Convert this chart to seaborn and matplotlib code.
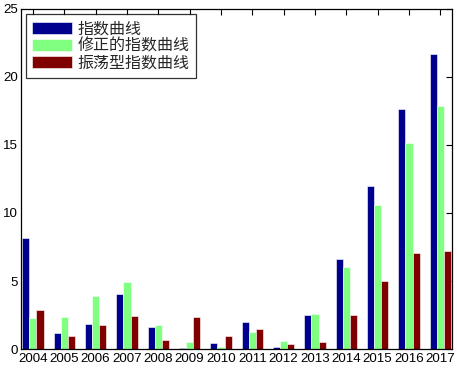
import numpy as np
import pandas as pd
import matplotlib
matplotlib.use("Agg")
import matplotlib.pyplot as plt
import seaborn as sns

years = ["2004", "2005", "2006", "2007", "2008", "2009", "2010",
         "2011", "2012", "2013", "2014", "2015", "2016", "2017"]
series_names = ["指数曲线", "修正的指数曲线", "振荡型指数曲线"]
exp_curve = [8.14, 1.20, 1.84, 4.04, 1.64, 0.10, 0.44, 1.99, 0.17, 2.50, 6.62, 11.99, 17.65, 21.67]
mod_exp_curve = [2.30, 2.38, 3.92, 4.93, 1.79, 0.51, 0.15, 1.25, 0.59, 2.60, 6.03, 10.61, 15.12, 17.87]
osc_exp_curve = [2.87, 0.98, 1.79, 2.43, 0.66, 2.38, 0.98, 1.47, 0.39, 0.51, 2.50, 5.00, 7.06, 7.23]
colors = ["#00008F", "#80FF80", "#800000"]

df = pd.DataFrame({
    "year": years * 3,
    "value": exp_curve + mod_exp_curve + osc_exp_curve,
    "series": [series_names[0]] * len(years) + [series_names[1]] * len(years) + [series_names[2]] * len(years),
})

sns.set_style("white")
plt.rcParams["font.family"] = ["Liberation Sans", "Noto Sans CJK SC", "DejaVu Sans"]

fig = plt.figure(figsize=(4.57, 3.68), dpi=100)
ax = fig.add_axes([0.046, 0.0516, 0.943, 0.924])

sns.barplot(data=df, x="year", y="value", hue="series", palette=colors,
            width=0.68, ax=ax, edgecolor="white", linewidth=0.4, saturation=1)

ax.set_xlim(-0.38, 13.37)
ax.set_ylim(0, 25)
ax.set_yticks([0, 5, 10, 15, 20, 25])
ax.set_xlabel("")
ax.set_ylabel("")
for s in ax.spines.values():
    s.set_color("black")
    s.set_linewidth(0.9)
ax.tick_params(axis="both", direction="in", length=4, width=0.8, labelsize=9.6,
               top=True, right=True, colors="black", pad=2)
ax.tick_params(axis="x", pad=3)

leg = ax.legend(loc="upper left", frameon=True, fancybox=False, edgecolor="black",
                handlelength=2.5, handleheight=0.8,
                borderaxespad=0.3, labelspacing=0.02, handletextpad=0.32,
                borderpad=0.4, prop={"family": ["Noto Sans CJK SC"], "size": 11.5})
leg.get_frame().set_linewidth(0.9)

fig.savefig("out.png", dpi=100)
